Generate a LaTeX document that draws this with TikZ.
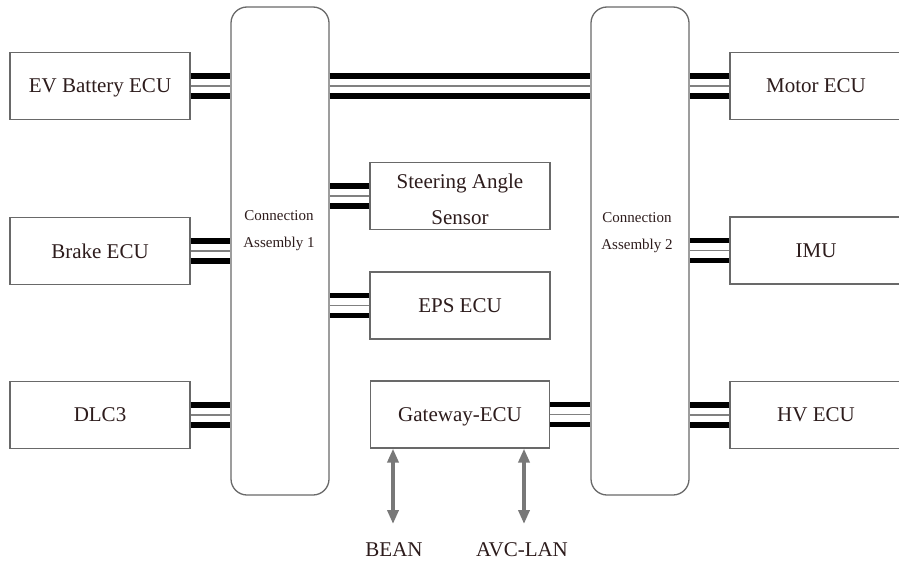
\documentclass[tikz,border=0pt]{standalone}
\usepackage{fontspec}
\setmainfont{Liberation Serif}
\usetikzlibrary{arrows.meta,calc}
\definecolor{txt}{RGB}{45,28,28}
\definecolor{edge}{RGB}{105,105,105}
\newcommand\busconn[2]{%
  \path (#1) coordinate (bA) (#1 -| #2) coordinate (bB);
  \draw[busthick] ([yshift=10pt]bA) -- ([yshift=10pt]bB);
  \draw[busthin] (bA) -- (bB);
  \draw[busthick] ([yshift=-10pt]bA) -- ([yshift=-10pt]bB);
}
\begin{document}
\begin{tikzpicture}[x=1pt,y=-1pt,
 box/.style={draw=edge,line width=1.3pt,fill=white,minimum width=180pt,minimum height=67pt,inner sep=0pt,text depth=0pt,text=txt,font=\fontsize{21}{36}\selectfont,align=center},
 rbox/.style={box,minimum width=172pt},
 asm/.style={draw=edge,line width=1.3pt,fill=white,rounded corners=16pt,minimum width=98pt,minimum height=488pt,inner sep=0pt},
 asmtext/.style={text=txt,font=\fontsize{15}{27}\selectfont,align=center,inner sep=0pt},
 busthick/.style={line width=5.5pt,black},
 busthin/.style={line width=1.4pt,gray},
 busarrow/.style={line width=4.5pt,color={rgb,255:red,120;green,120;blue,120},{Triangle[width=11pt,length=14pt]}-{Triangle[width=11pt,length=14pt]}},
 lbl/.style={text=txt,font=\fontsize{21}{25}\selectfont,inner sep=0pt}]
\useasboundingbox (0,0) rectangle (899,562);
\fill[white] (0,0) rectangle (899,562);

% connection assemblies
\node[asm] (ca1) at (280,251) {};
\node[asm] (ca2) at (640,251) {};
\node[asmtext] (ca1t) at (279,230.5) {Connection\\Assembly 1};
\node[asmtext] (ca2t) at (637,233) {Connection\\Assembly 2};

% left ECUs
\node[box] (ev) at (100,86) {EV Battery ECU};
\node[box] (brake) at (100,251) {Brake ECU};
\node[box] (dlc) at (100,415) {DLC3};

% middle
\node[box] (sas) at (460,196) {\rule{0pt}{21pt}Steering Angle\\Sensor};
\node[box] (eps) at (460,305.5) {EPS ECU};
\node[box,minimum width=179pt] (gw) at (460,414.5) {Gateway-ECU};

% right ECUs
\node[rbox] (motor) at (816,86) {Motor ECU};
\node[rbox] (imu) at (816,250.5) {IMU};
\node[rbox] (hv) at (816,415) {HV ECU};

% buses
\busconn{ev.east}{ca1.west}
\busconn{brake.east}{ca1.west}
\busconn{dlc.east}{ca1.west}
\coordinate (top1) at (ca1.east |- ev.east);
\busconn{top1}{ca2.west}
\busconn{sas.west}{ca1.east}
\busconn{eps.west}{ca1.east}
\busconn{gw.east}{ca2.west}
\busconn{motor.west}{ca2.east}
\busconn{imu.west}{ca2.east}
\busconn{hv.west}{ca2.east}

% external buses
\coordinate (beanend) at (393,524);
\coordinate (avcend) at (524,524);
\draw[busarrow] (beanend |- gw.south) -- (beanend);
\draw[busarrow] (avcend |- gw.south) -- (avcend);
\node[lbl] (bean) at (394,550) {BEAN};
\node[lbl] (avc) at (522,550) {AVC-LAN};
\end{tikzpicture}
\end{document}
